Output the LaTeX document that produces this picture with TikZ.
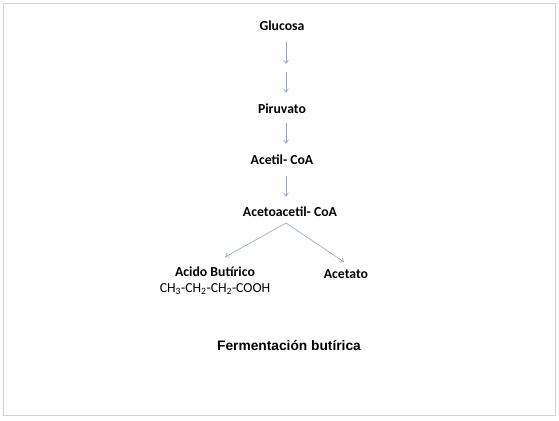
\documentclass[tikz,border=0pt]{standalone}
\usepackage{fontspec}
\setmainfont{Carlito}
\newfontfamily\titlefont{Liberation Sans}
\usetikzlibrary{arrows.meta, positioning}
\definecolor{arrowblue}{RGB}{140,165,200}
\definecolor{framegray}{RGB}{210,210,210}

\begin{document}
\begin{tikzpicture}[x=1bp, y=-1bp, on grid,
    chem/.style={font=\fontsize{13.8}{16}\selectfont\bfseries, inner sep=0pt, text height=9bp, text depth=3bp},
    flow/.style={draw=arrowblue, line width=0.6bp, -{Straight Barb[length=3.5bp,width=5bp]}}]
    \useasboundingbox (0,0) rectangle (559,420);
    % frame of the slide
    \draw[framegray, line width=1.2bp] (3.5,3.5) rectangle (555.5,415.5);
    % pathway
    \node[chem] (glucosa) at (282,27) {Glucosa};
    \coordinate[below right=41bp and 4bp of glucosa] (gap);
    \node[chem, below=83bp of glucosa] (piruvato) {Piruvato};
    \node[chem, below=51bp of piruvato] (acetil) {Acetil- CoA};
    \node[chem, below right=52bp and 8bp of acetil] (acetoacetil) {Acetoacetil- CoA};
    \coordinate[below left=10bp and 4bp of acetoacetil] (fork);
    \node[chem, below left=60bp and 75bp of acetoacetil] (butirico) {Acido Butírico};
    \node[chem, font=\fontsize{13.8}{16}\selectfont, below=16bp of butirico] (formula)
        {CH\textsubscript{3}-CH\textsubscript{2}-CH\textsubscript{2}-COOH};
    \node[chem, below right=62bp and 56bp of acetoacetil] (acetato) {Acetato};
    \coordinate[above right=16bp and 10bp of butirico] (tipL);
    \coordinate[above left=13bp and 2bp of acetato] (tipR);
    \node[font=\titlefont\fontsize{13.8}{16}\selectfont\bfseries] (titulo) at (289,346) {Fermentación butírica};

    \draw[flow, shorten <=9bp, shorten >=4bp] (glucosa.south -| gap) -- (gap);
    \draw[flow, shorten <=4bp, shorten >=11bp] (gap) -- (piruvato.north -| gap);
    \draw[flow, shorten <=7bp, shorten >=11bp] (piruvato.south -| gap) -- (acetil.north -| gap);
    \draw[flow, shorten <=9bp, shorten >=10bp] (acetil.south -| gap) -- (acetoacetil.north -| gap);
    \draw[flow] (fork) -- (tipL);
    \draw[flow] (fork) -- (tipR);
\end{tikzpicture}
\end{document}
